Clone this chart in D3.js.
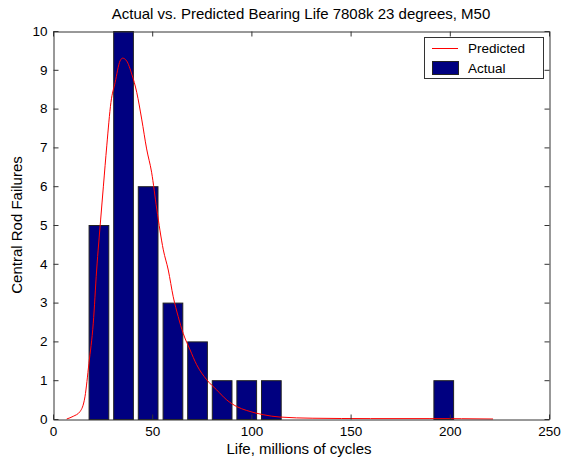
<!DOCTYPE html>
<html>
<head>
<meta charset="utf-8">
<script src="https://cdn.jsdelivr.net/npm/d3@7"></script>
<style>
  body { margin: 0; background: #fff; }
  text { font-family: "Liberation Sans", Arial, sans-serif; fill: #000; }
</style>
</head>
<body>
<svg id="chart" width="561" height="460"></svg>
<script>
// histogram bins (centres) and counts
var binCenters = [22.9, 35.3, 47.7, 60.2, 72.6, 85.0, 97.4, 109.8, 122.2, 134.6, 147.1, 159.5, 171.9, 184.3, 196.7];
var counts = [5, 10, 6, 3, 2, 1, 1, 1, 0, 0, 0, 0, 0, 0, 1];
var binWidth = 12.41;

// predicted curve
var predX = [6.9, 10.2, 13.6, 16.1, 18.1, 20.3, 22.0, 24.0, 25.4, 27.1, 29.2, 31.3, 33.8, 35.1, 37.1, 39.7, 42.2, 44.7, 47.2, 49.7, 52.3, 55.6, 58.1, 60.6, 63.1, 65.6, 69.1, 72.4, 77.5, 82.5, 87.6, 92.6, 97.6, 106, 114.4, 131, 160, 190, 221.8];
var predY = [0, 0.07, 0.19, 0.57, 1.43, 2.47, 3.84, 5.13, 6.0, 7.04, 8.16, 8.67, 9.23, 9.30, 9.23, 8.89, 8.42, 7.73, 6.96, 6.36, 5.41, 4.36, 3.84, 3.15, 2.64, 2.21, 1.78, 1.40, 1.01, 0.75, 0.49, 0.32, 0.22, 0.11, 0.05, 0.02, 0.01, 0.01, 0];

var xTicks = [0, 50, 100, 150, 200, 250];
var yTicks = [0, 1, 2, 3, 4, 5, 6, 7, 8, 9, 10];

var svg = d3.select("#chart"),
    margin = {top: 31, right: 12, bottom: 41, left: 53},
    width = +svg.attr("width"),
    height = +svg.attr("height");

var x = d3.scaleLinear().domain([0, 250]).range([margin.left, width - margin.right]);
var y = d3.scaleLinear().domain([0, 10]).range([height - margin.bottom, margin.top]);

// bars
svg.append("g")
  .selectAll("rect")
  .data(binCenters.map((c, i) => ({c: c, n: counts[i]})).filter(d => d.n > 0))
  .enter().append("rect")
    .attr("x", d => x(d.c - binWidth * 0.4) + 0.5)
    .attr("y", d => y(d.n) + 0.5)
    .attr("width", d => x(d.c + binWidth * 0.4) - x(d.c - binWidth * 0.4))
    .attr("height", d => y(0) - y(d.n))
    .attr("fill", "#000080")
    .attr("stroke", "#222")
    .attr("stroke-width", 1);

// predicted line
var line = d3.line().x(d => x(d[0])).y(d => y(d[1])).curve(d3.curveMonotoneX);
svg.append("path")
  .datum(predX.map((v, i) => [v, predY[i]]))
  .attr("d", line)
  .attr("fill", "none")
  .attr("stroke", "#ff0000")
  .attr("stroke-width", 1);

// axes (MATLAB style box with inward ticks)
var axColor = "#333";
var xAxis = g => g
  .attr("transform", "translate(0," + (y(0) + 0.5) + ")")
  .call(d3.axisBottom(x).tickValues(xTicks).tickSize(-5).tickSizeOuter(0).tickPadding(7));
var yAxis = g => g
  .attr("transform", "translate(" + (x(0) + 0.5) + ",0)")
  .call(d3.axisLeft(y).tickValues(yTicks).tickSize(-5).tickSizeOuter(0).tickPadding(6));
var xTop = g => g
  .attr("transform", "translate(0," + (y(10) + 0.5) + ")")
  .call(d3.axisTop(x).tickValues(xTicks).tickSize(-5).tickSizeOuter(0).tickFormat(""));
var yRight = g => g
  .attr("transform", "translate(" + (x(250) + 0.5) + ",0)")
  .call(d3.axisRight(y).tickValues(yTicks).tickSize(-5).tickSizeOuter(0).tickFormat(""));

[xAxis, yAxis, xTop, yRight].forEach(function(a) {
  var g = svg.append("g").call(a);
  g.selectAll("path, line").attr("stroke", axColor);
  g.selectAll("text").style("font-size", "13.5px").style("font-family", "Liberation Sans, Arial, sans-serif").attr("fill", "#000");
});

// title and labels
svg.append("text")
  .attr("x", (x(0) + x(250)) / 2)
  .attr("y", 19)
  .attr("text-anchor", "middle")
  .style("font-size", "15px")
  .text("Actual vs. Predicted Bearing Life 7808k 23 degrees, M50");

svg.append("text")
  .attr("x", (x(0) + x(250)) / 2 - 2)
  .attr("y", 454)
  .attr("text-anchor", "middle")
  .style("font-size", "15px")
  .text("Life, millions of cycles");

svg.append("text")
  .attr("transform", "translate(22," + ((y(0) + y(10)) / 2) + ") rotate(-90)")
  .attr("text-anchor", "middle")
  .style("font-size", "15px")
  .text("Central Rod Failures");

// legend
var lg = svg.append("g");
lg.append("rect")
  .attr("x", 424.5).attr("y", 37.5)
  .attr("width", 119).attr("height", 41)
  .attr("fill", "#fff").attr("stroke", axColor);
lg.append("line")
  .attr("x1", 432).attr("x2", 458).attr("y1", 48.5).attr("y2", 48.5)
  .attr("stroke", "#ff0000");
lg.append("text").attr("x", 468).attr("y", 53).style("font-size", "13.5px").text("Predicted");
lg.append("rect")
  .attr("x", 432.5).attr("y", 61.5).attr("width", 26).attr("height", 13)
  .attr("fill", "#000080").attr("stroke", "#222");
lg.append("text").attr("x", 468).attr("y", 73).style("font-size", "13.5px").text("Actual");
</script>
</body>
</html>
